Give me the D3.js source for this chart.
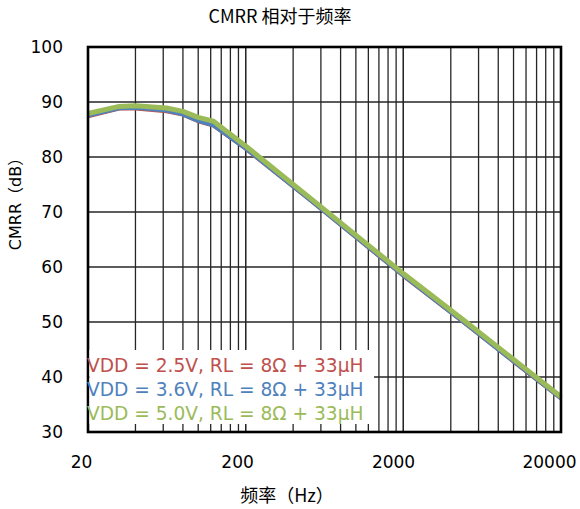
<!DOCTYPE html>
<html>
<head>
<meta charset="utf-8">
<script src="https://cdn.jsdelivr.net/npm/d3@7"></script>
<style>
  html, body { margin: 0; padding: 0; background: #fff; }
  svg { display: block; }
</style>
</head>
<body>
<svg id="chart" width="580" height="509"></svg>
<script>
// Measured CMRR (dB) against frequency (Hz) for three supply voltages
const freqs   = [20, 31.5, 40, 63, 80, 100, 125, 200, 500, 1000, 2000, 5000, 10000, 20000];
const cmrr25V = [87.4, 88.8, 88.8, 88.3, 87.7, 86.5, 85.7, 81.5, 72.4, 65.4, 58.4, 49.6, 42.8, 36.1];
const cmrr36V = [87.6, 88.9, 89.0, 88.5, 87.8, 86.6, 85.8, 81.6, 72.5, 65.5, 58.5, 49.7, 42.9, 36.2];
const cmrr50V = [87.9, 89.2, 89.3, 88.9, 88.3, 87.2, 86.5, 82.0, 72.8, 65.8, 58.8, 50.0, 43.2, 36.4];

const seriesLabels = [
  "VDD = 2.5V, RL = 8Ω + 33µH",
  "VDD = 3.6V, RL = 8Ω + 33µH",
  "VDD = 5.0V, RL = 8Ω + 33µH"
];
const seriesColors = ["#C0504D", "#4F81BD", "#9BBB59"];
const seriesWidths = [4, 4.5, 5];

const xTicks = [20, 200, 2000, 20000];
const yTicks = [30, 40, 50, 60, 70, 80, 90, 100];

const titleText  = "CMRR 相对于频率";
const xTitleText = "频率（Hz）";
const yTitleText = "CMRR（dB）";

const latin = "'DejaVu Sans', 'Noto Sans CJK SC', sans-serif";
const cjk   = "'Noto Sans CJK SC', 'DejaVu Sans', sans-serif";

const svg = d3.select("#chart");
const plot = { left: 88, right: 561, top: 47, bottom: 432 };

const x = d3.scaleLog().domain([20, 20000]).range([plot.left, plot.right]);
const y = d3.scaleLinear().domain([30, 100]).range([plot.bottom, plot.top]);

svg.append("rect").attr("width", 580).attr("height", 509).attr("fill", "#fff");

// gridlines: majors at 20·10^n, minors at k·20·10^n
const vGrid = [];
xTicks.slice(0, -1).forEach(d => { for (let k = 1; k <= 10; k++) vGrid.push(d * k); });
const grid = svg.append("g").attr("stroke", "#262626").attr("stroke-width", 1.3);
grid.selectAll("line.v").data(vGrid).join("line")
  .attr("x1", d => x(d)).attr("x2", d => x(d))
  .attr("y1", plot.top).attr("y2", plot.bottom);
grid.selectAll("line.h").data(yTicks).join("line")
  .attr("x1", plot.left).attr("x2", plot.right)
  .attr("y1", d => y(d)).attr("y2", d => y(d));

// series
const series = [cmrr25V, cmrr36V, cmrr50V];
const line = d3.line().x(d => x(d[0])).y(d => y(d[1]));
series.forEach((vals, i) => {
  svg.append("path")
    .datum(freqs.map((f, j) => [f, vals[j]]))
    .attr("fill", "none")
    .attr("stroke", seriesColors[i])
    .attr("stroke-width", seriesWidths[i])
    .attr("stroke-linejoin", "round")
    .attr("d", line);
});

// frame
svg.append("rect")
  .attr("x", plot.left).attr("y", plot.top)
  .attr("width", plot.right - plot.left).attr("height", plot.bottom - plot.top)
  .attr("fill", "none").attr("stroke", "#000").attr("stroke-width", 2.6);

// legend
svg.append("rect")
  .attr("x", plot.left + 1.5).attr("y", 350)
  .attr("width", 374 - plot.left - 1.5).attr("height", 74)
  .attr("fill", "#fff");
svg.append("g").selectAll("text").data(seriesLabels).join("text")
  .attr("x", 87).attr("y", (d, i) => 372 + i * 24)
  .attr("fill", (d, i) => seriesColors[i])
  .attr("font-family", latin).attr("font-size", 18.6)
  .text(d => d);

// y tick labels
svg.append("g").selectAll("text").data(yTicks).join("text")
  .attr("x", 63).attr("y", d => y(d) + 6.3)
  .attr("text-anchor", "end")
  .attr("font-family", latin).attr("font-size", 17).attr("fill", "#000")
  .text(d => d);

// x tick labels, nudged left
svg.append("g").selectAll("text").data(xTicks).join("text")
  .attr("x", d => x(d) - (3 + 1.7 * String(d).length))
  .attr("y", 468)
  .attr("text-anchor", "middle")
  .attr("font-family", latin).attr("font-size", 17).attr("fill", "#000")
  .text(d => d);

// titles
svg.append("text").attr("x", 280).attr("y", 23)
  .attr("text-anchor", "middle").attr("font-family", cjk).attr("font-size", 18)
  .attr("fill", "#000").text(titleText);
svg.append("text").attr("x", 287).attr("y", 502)
  .attr("text-anchor", "middle").attr("font-family", cjk).attr("font-size", 18)
  .attr("fill", "#000").text(xTitleText);
svg.append("text")
  .attr("transform", "translate(21,200) rotate(-90)")
  .attr("text-anchor", "middle").attr("font-family", latin).attr("font-size", 16)
  .attr("fill", "#000").text(yTitleText);
</script>
</body>
</html>
